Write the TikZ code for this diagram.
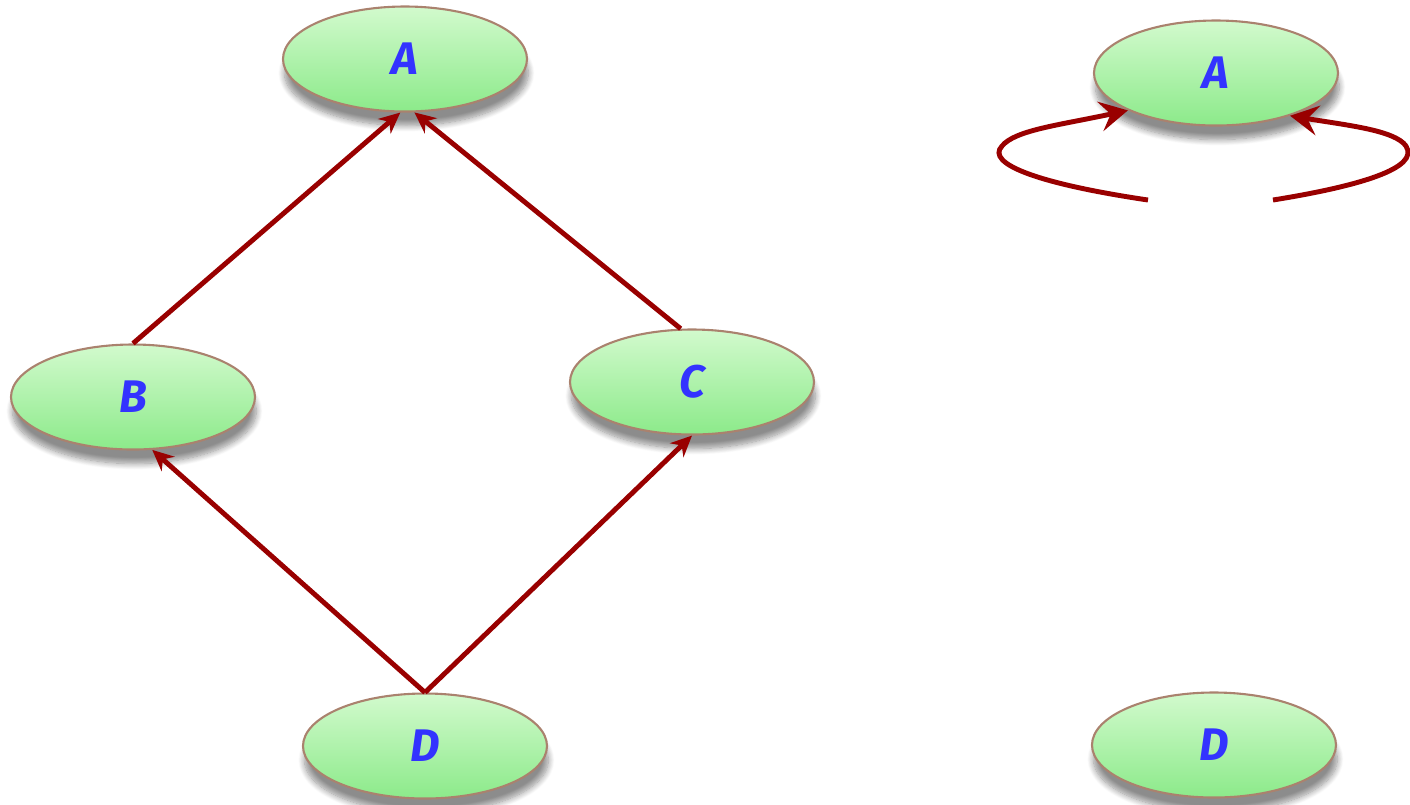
\documentclass[tikz,border=0pt]{standalone}
\usepackage{fontspec}
\newfontfamily\letterfont{Fira Sans}
\usetikzlibrary{shapes.geometric,shadows.blur,arrows.meta}
\definecolor{edgered}{RGB}{153,0,0}
\definecolor{letterblue}{RGB}{51,51,255}
\definecolor{nodetop}{RGB}{210,250,205}
\definecolor{nodemid}{RGB}{165,242,160}
\definecolor{nodebottom}{RGB}{140,234,138}
\definecolor{noderim}{RGB}{170,130,110}
\tikzset{
  vertex/.style={ellipse, minimum width=2.44cm, minimum height=1.05cm, inner sep=0pt,
    draw=noderim, line width=0.6pt, top color=nodetop, middle color=nodemid, bottom color=nodebottom,
    blur shadow={shadow xshift=0.4pt, shadow yshift=-4pt, shadow blur steps=10, shadow opacity=45},
    text=letterblue, font=\letterfont\bfseries\itshape\fontsize{13}{15}\selectfont},
  dep/.style={edgered, line width=1.4pt, -{Stealth[length=6pt,width=5.5pt]}},
  loopdep/.style={edgered, line width=1.4pt, -{Stealth[length=8pt,width=8.5pt,inset=3pt]}}
}
\begin{document}
\begin{tikzpicture}
\useasboundingbox (0,0) rectangle (14.1,-8.04);
\node[vertex] (a) at (4.05,-0.59) {A};
\node[vertex] (b) at (1.33,-3.97) {B};
\node[vertex] (c) at (6.92,-3.82) {C};
\node[vertex] (d) at (4.25,-7.46) {D};
\node[vertex] (a2) at (12.16,-0.73) {A};
\node[vertex] (d2) at (12.14,-7.45) {D};
\draw[dep] (b.north) -- (a.265);
\draw[dep] (c.102) -- (a.280);
\draw[dep] (d.north) -- (b.290);
\draw[dep] (d.north) -- (c.south);
\coordinate (l1) at (11.48,-2.00);
\coordinate (r1) at (12.73,-2.00);
\draw[loopdep] (l1) .. controls (10.4,-1.84) and (9.85,-1.64) .. (10.02,-1.46)
  .. controls (10.15,-1.3) and (10.6,-1.25) .. (a2.203);
\draw[loopdep] (r1) .. controls (13.6,-1.86) and (14.2,-1.68) .. (14.06,-1.46)
  .. controls (13.95,-1.3) and (13.45,-1.25) .. (a2.330);
\end{tikzpicture}
\end{document}
